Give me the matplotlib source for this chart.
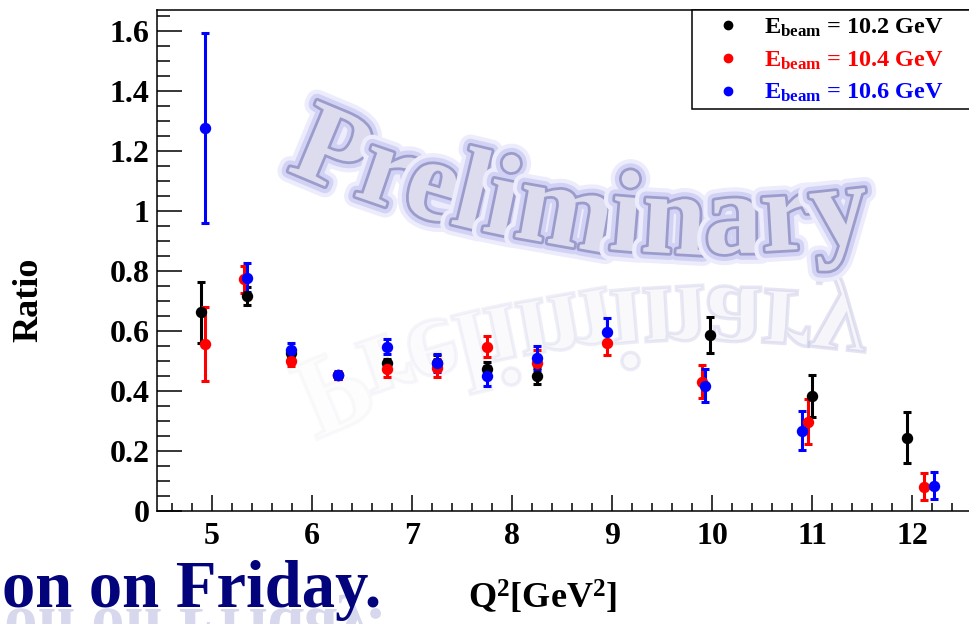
import numpy as np
import matplotlib
matplotlib.use("Agg")
import matplotlib.pyplot as plt
import matplotlib.patheffects as pe
from matplotlib.lines import Line2D
from matplotlib.patches import Rectangle, PathPatch
from matplotlib.textpath import TextPath, TextToPath
from matplotlib.font_manager import FontProperties
from matplotlib.transforms import Affine2D, IdentityTransform
from matplotlib.ticker import FixedLocator, MultipleLocator

plt.rcParams['font.family'] = ['Liberation Serif', 'DejaVu Serif']
plt.rcParams['font.weight'] = 'bold'
plt.rcParams['axes.labelweight'] = 'bold'
plt.rcParams['mathtext.fontset'] = 'custom'
plt.rcParams['mathtext.rm'] = 'Liberation Serif:bold'
plt.rcParams['mathtext.it'] = 'Liberation Serif:bold'
plt.rcParams['mathtext.bf'] = 'Liberation Serif:bold'
plt.rcParams['mathtext.default'] = 'rm'

# ---------------- data ----------------
q2_102 = [4.89, 5.35, 5.79, 6.26, 6.75, 7.25, 7.75, 8.25, 9.98, 11.00, 11.95]
r_102 = [0.662, 0.718, 0.528, 0.452, 0.492, 0.494, 0.472, 0.451, 0.587, 0.383, 0.244]
e_102 = [0.102, 0.030, 0.015, 0.012, 0.015, 0.025, 0.026, 0.027, 0.060, 0.070, 0.085]

q2_104 = [4.93, 5.32, 5.79, 6.26, 6.75, 7.25, 7.75, 8.25, 8.95, 9.90, 10.96, 12.12]
r_104 = [0.557, 0.772, 0.501, 0.452, 0.472, 0.476, 0.548, 0.492, 0.561, 0.431, 0.298, 0.081]
e_104 = [0.124, 0.046, 0.017, 0.012, 0.025, 0.030, 0.035, 0.045, 0.042, 0.055, 0.076, 0.045]

q2_106 = [4.93, 5.35, 5.79, 6.26, 6.75, 7.25, 7.75, 8.25, 8.95, 9.93, 10.90, 12.22]
r_106 = [1.276, 0.778, 0.537, 0.453, 0.548, 0.492, 0.450, 0.509, 0.598, 0.418, 0.267, 0.084]
e_106 = [0.316, 0.048, 0.022, 0.013, 0.024, 0.030, 0.033, 0.040, 0.046, 0.056, 0.065, 0.045]

series_labels = [r'E$_{beam}$ = 10.2 GeV', r'E$_{beam}$ = 10.4 GeV', r'E$_{beam}$ = 10.6 GeV']
series_colors = ['#000000', '#ff0000', '#0000ff']

x_ticks = [5, 6, 7, 8, 9, 10, 11, 12]
x_ticklabels = ['5', '6', '7', '8', '9', '10', '11', '12']
y_ticks = [0, 0.2, 0.4, 0.6, 0.8, 1.0, 1.2, 1.4, 1.6]
y_ticklabels = ['0', '0.2', '0.4', '0.6', '0.8', '1', '1.2', '1.4', '1.6']

x_label = r'Q$^{2}$[GeV$^{2}$]'
y_label = 'Ratio'
watermark = 'Preliminary'
footer_text = 'on on Friday.'

# ---------------- figure ----------------
W, H = 969, 624
fig = plt.figure(figsize=(W / 100, H / 100), dpi=100)
ax = fig.add_axes([157 / W, 113 / H, 818 / W, 501 / H])
ax.set_xlim(4.45, 12.63)
ax.set_ylim(0, 1.67)

for sp in ax.spines.values():
    sp.set_linewidth(1.1)
ax.spines['right'].set_visible(False)

ax.xaxis.set_major_locator(FixedLocator(x_ticks))
ax.set_xticklabels(x_ticklabels)
ax.xaxis.set_minor_locator(MultipleLocator(0.2))
ax.yaxis.set_major_locator(FixedLocator(y_ticks))
ax.set_yticklabels(y_ticklabels)
ax.yaxis.set_minor_locator(MultipleLocator(0.05))

ax.tick_params(axis='both', which='both', direction='in', top=False, right=False, width=1.1,
               labelsize=23)
ax.tick_params(axis='y', which='major', length=18, pad=5.5)
ax.tick_params(axis='y', which='minor', length=9)
ax.tick_params(axis='x', which='major', length=11.5, pad=8)
ax.tick_params(axis='x', which='minor', length=6)

ax.set_xlabel(x_label, fontsize=26, fontweight='bold')
ax.xaxis.set_label_coords(0.472, -0.135)
ax.set_ylabel(y_label, fontsize=26, fontweight='bold')
ax.yaxis.set_label_coords(-0.137, 0.421)

for q, r, e, c in [(q2_102, r_102, e_102, series_colors[0]),
                   (q2_104, r_104, e_104, series_colors[1]),
                   (q2_106, r_106, e_106, series_colors[2])]:
    ax.errorbar(q, r, yerr=e, fmt='o', color=c, ms=7.2, elinewidth=2.2,
                capsize=2.7, capthick=2.2, zorder=3)

# legend
frame = Rectangle((0.654, 0.802), 0.5, 0.198, transform=ax.transAxes, facecolor='white',
                  edgecolor='black', lw=1.1, clip_on=False, zorder=5)
ax.add_patch(frame)
handles = [Line2D([], [], ls='none', marker='o', color=c, ms=6) for c in series_colors]
leg = ax.legend(handles, series_labels, loc='upper left', bbox_to_anchor=(0.683, 0.987),
                frameon=False, fontsize=17.5, handlelength=1.0, handletextpad=1.0,
                labelspacing=0.43, borderpad=0, borderaxespad=0)
leg.set_zorder(6)
for t, c in zip(leg.get_texts(), series_colors):
    t.set_color(c)

# ---------------- watermark "Preliminary" on an arc ----------------
fp = FontProperties(family='Liberation Serif', weight='bold')
t2p = TextToPath()


def width_px(s, prop):
    w, h, d = t2p.get_text_width_height_descent(s, prop, ismath=False)
    return w * 100 / 72


em = 118.0
fp.set_size(em * 72 / 100)
em = em * 597 / width_px(watermark, fp)
fp.set_size(em * 72 / 100)

cx, cy, R = 700.0, 1445.0, 1074.0
theta0 = np.arcsin((286 - cx) / R)
ym = 354.0
n = len(watermark)
for i, ch in enumerate(watermark):
    off = width_px(watermark[:i + 1], fp) - width_px(ch, fp)
    th = theta0 + off / R
    bx = cx + R * np.sin(th)
    by = cy - R * np.cos(th)
    ax.text(bx, by, ch, transform=IdentityTransform(), rotation=np.degrees(th),
            rotation_mode='anchor', ha='left', va='baseline', fontproperties=fp,
            color='#dcdcee', zorder=1.2,
            path_effects=[pe.Stroke(linewidth=16, foreground='#ececfc'),
                          pe.Stroke(linewidth=10, foreground='#d2d2f4'),
                          pe.Stroke(linewidth=4.0, foreground='#9c9ccc'),
                          pe.Normal()])
    # faint mirrored reflection
    tp = TextPath((0, 0), ch, size=em, prop=fp)
    tr = Affine2D().scale(1, -1).rotate(-th).translate(bx, 2 * ym - by)
    a = 0.06 + 0.26 * i / (n - 1)
    ax.add_patch(PathPatch(tp, transform=tr, facecolor='#e4e4f2', edgecolor='#a8a8d8',
                           lw=2.5, alpha=a, zorder=1.0, clip_on=False))

# ---------------- footer text with reflection ----------------
fsize = 48
ffp = FontProperties(family='Liberation Serif', weight='bold', size=fsize)
fig.text(381 / W, 17 / H, footer_text, ha='right', va='baseline', fontproperties=ffp,
         color='#03037c')
ftp = TextPath((0, 0), footer_text, size=fsize * 100 / 72, prop=ffp)
ext = ftp.get_extents()
ftr = Affine2D().translate(-ext.x0, 0).scale(1, -1).translate(381 - ext.width, 15)
fig.add_artist(PathPatch(ftp, transform=ftr, facecolor='#7070c0', edgecolor='none',
                         alpha=0.28, zorder=2))

fig.savefig('out.png', dpi=100)
